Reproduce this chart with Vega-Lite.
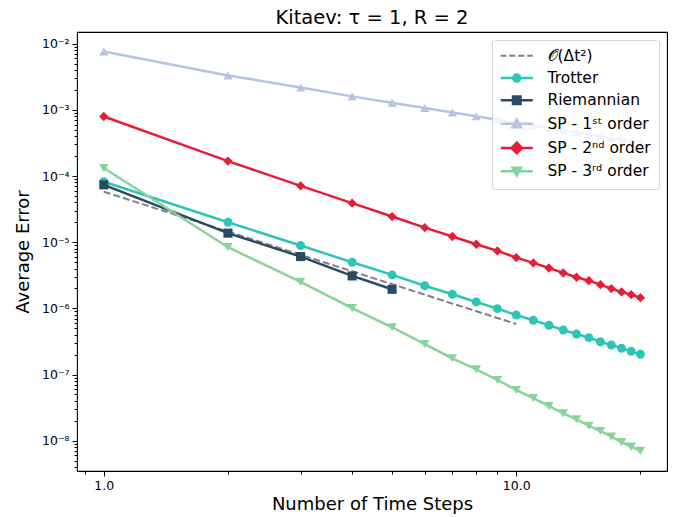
{
  "$schema": "https://vega.github.io/schema/vega-lite/v6.json",
  "width": 590,
  "height": 439,
  "autosize": {"type": "none"},
  "padding": {"left": 77, "top": 32, "right": 9, "bottom": 46},
  "background": "white",
  "title": {
    "text": "Kitaev: τ = 1, R = 2",
    "font": "DejaVu Sans",
    "fontSize": 19.5,
    "fontWeight": "normal",
    "color": "#000000",
    "anchor": "middle",
    "frame": "group",
    "baseline": "alphabetic",
    "offset": 9,
    "dy": 20
  },
  "config": {
    "view": {"stroke": "#000000", "strokeWidth": 1.1},
    "font": "DejaVu Sans",
    "axis": {
      "domain": false,
      "grid": false,
      "tickColor": "#000000",
      "tickWidth": 1,
      "labelColor": "#000000",
      "titleColor": "#000000",
      "labelFont": "DejaVu Sans",
      "titleFont": "DejaVu Sans",
      "labelFontSize": 12.5,
      "titleFontSize": 18,
      "titleFontWeight": "normal",
      "labelOverlap": false,
      "labelBound": false,
      "labelFlush": false
    }
  },
  "data": {
    "values": [
      {"method": "𝒪(Δt²)", "n": 1, "err": 5.8e-5},
      {"method": "𝒪(Δt²)", "n": 2, "err": 1.45e-5},
      {"method": "𝒪(Δt²)", "n": 3, "err": 6.44e-6},
      {"method": "𝒪(Δt²)", "n": 4, "err": 3.63e-6},
      {"method": "𝒪(Δt²)", "n": 5, "err": 2.32e-6},
      {"method": "𝒪(Δt²)", "n": 6, "err": 1.61e-6},
      {"method": "𝒪(Δt²)", "n": 7, "err": 1.18e-6},
      {"method": "𝒪(Δt²)", "n": 8, "err": 9.06e-7},
      {"method": "𝒪(Δt²)", "n": 9, "err": 7.16e-7},
      {"method": "𝒪(Δt²)", "n": 10, "err": 5.8e-7},

      {"method": "Trotter", "n": 1, "err": 8.2e-5},
      {"method": "Trotter", "n": 2, "err": 2.0e-5},
      {"method": "Trotter", "n": 3, "err": 8.9e-6},
      {"method": "Trotter", "n": 4, "err": 4.98e-6},
      {"method": "Trotter", "n": 5, "err": 3.2e-6},
      {"method": "Trotter", "n": 6, "err": 2.2e-6},
      {"method": "Trotter", "n": 7, "err": 1.63e-6},
      {"method": "Trotter", "n": 8, "err": 1.25e-6},
      {"method": "Trotter", "n": 9, "err": 9.9e-7},
      {"method": "Trotter", "n": 10, "err": 7.94e-7},
      {"method": "Trotter", "n": 11, "err": 6.6e-7},
      {"method": "Trotter", "n": 12, "err": 5.55e-7},
      {"method": "Trotter", "n": 13, "err": 4.71e-7},
      {"method": "Trotter", "n": 14, "err": 4.1e-7},
      {"method": "Trotter", "n": 15, "err": 3.6e-7},
      {"method": "Trotter", "n": 16, "err": 3.13e-7},
      {"method": "Trotter", "n": 17, "err": 2.79e-7},
      {"method": "Trotter", "n": 18, "err": 2.49e-7},
      {"method": "Trotter", "n": 19, "err": 2.24e-7},
      {"method": "Trotter", "n": 20, "err": 2.02e-7},

      {"method": "Riemannian", "n": 1, "err": 7.36e-5},
      {"method": "Riemannian", "n": 2, "err": 1.37e-5},
      {"method": "Riemannian", "n": 3, "err": 6.06e-6},
      {"method": "Riemannian", "n": 4, "err": 3.09e-6},
      {"method": "Riemannian", "n": 5, "err": 1.94e-6},

      {"method": "SP - 1ˢᵗ order", "n": 1, "err": 7.65e-3},
      {"method": "SP - 1ˢᵗ order", "n": 2, "err": 3.31e-3},
      {"method": "SP - 1ˢᵗ order", "n": 3, "err": 2.18e-3},
      {"method": "SP - 1ˢᵗ order", "n": 4, "err": 1.6e-3},
      {"method": "SP - 1ˢᵗ order", "n": 5, "err": 1.28e-3},
      {"method": "SP - 1ˢᵗ order", "n": 6, "err": 1.07e-3},
      {"method": "SP - 1ˢᵗ order", "n": 7, "err": 9.1e-4},
      {"method": "SP - 1ˢᵗ order", "n": 8, "err": 8.0e-4},
      {"method": "SP - 1ˢᵗ order", "n": 9, "err": 7.1e-4},
      {"method": "SP - 1ˢᵗ order", "n": 10, "err": 6.4e-4},
      {"method": "SP - 1ˢᵗ order", "n": 11, "err": 5.8e-4},
      {"method": "SP - 1ˢᵗ order", "n": 12, "err": 5.33e-4},
      {"method": "SP - 1ˢᵗ order", "n": 13, "err": 4.9e-4},
      {"method": "SP - 1ˢᵗ order", "n": 14, "err": 4.57e-4},
      {"method": "SP - 1ˢᵗ order", "n": 15, "err": 4.27e-4},
      {"method": "SP - 1ˢᵗ order", "n": 16, "err": 4.0e-4},
      {"method": "SP - 1ˢᵗ order", "n": 17, "err": 3.76e-4},
      {"method": "SP - 1ˢᵗ order", "n": 18, "err": 3.56e-4},
      {"method": "SP - 1ˢᵗ order", "n": 19, "err": 3.37e-4},
      {"method": "SP - 1ˢᵗ order", "n": 20, "err": 3.2e-4},

      {"method": "SP - 2ⁿᵈ order", "n": 1, "err": 7.94e-4},
      {"method": "SP - 2ⁿᵈ order", "n": 2, "err": 1.68e-4},
      {"method": "SP - 2ⁿᵈ order", "n": 3, "err": 7.1e-5},
      {"method": "SP - 2ⁿᵈ order", "n": 4, "err": 3.89e-5},
      {"method": "SP - 2ⁿᵈ order", "n": 5, "err": 2.44e-5},
      {"method": "SP - 2ⁿᵈ order", "n": 6, "err": 1.66e-5},
      {"method": "SP - 2ⁿᵈ order", "n": 7, "err": 1.22e-5},
      {"method": "SP - 2ⁿᵈ order", "n": 8, "err": 9.3e-6},
      {"method": "SP - 2ⁿᵈ order", "n": 9, "err": 7.38e-6},
      {"method": "SP - 2ⁿᵈ order", "n": 10, "err": 5.85e-6},
      {"method": "SP - 2ⁿᵈ order", "n": 11, "err": 4.86e-6},
      {"method": "SP - 2ⁿᵈ order", "n": 12, "err": 4.08e-6},
      {"method": "SP - 2ⁿᵈ order", "n": 13, "err": 3.43e-6},
      {"method": "SP - 2ⁿᵈ order", "n": 14, "err": 2.95e-6},
      {"method": "SP - 2ⁿᵈ order", "n": 15, "err": 2.62e-6},
      {"method": "SP - 2ⁿᵈ order", "n": 16, "err": 2.28e-6},
      {"method": "SP - 2ⁿᵈ order", "n": 17, "err": 1.99e-6},
      {"method": "SP - 2ⁿᵈ order", "n": 18, "err": 1.77e-6},
      {"method": "SP - 2ⁿᵈ order", "n": 19, "err": 1.61e-6},
      {"method": "SP - 2ⁿᵈ order", "n": 20, "err": 1.45e-6},

      {"method": "SP - 3ʳᵈ order", "n": 1, "err": 1.32e-4},
      {"method": "SP - 3ʳᵈ order", "n": 2, "err": 8.4e-6},
      {"method": "SP - 3ʳᵈ order", "n": 3, "err": 2.51e-6},
      {"method": "SP - 3ʳᵈ order", "n": 4, "err": 1.01e-6},
      {"method": "SP - 3ʳᵈ order", "n": 5, "err": 5.18e-7},
      {"method": "SP - 3ʳᵈ order", "n": 6, "err": 2.89e-7},
      {"method": "SP - 3ʳᵈ order", "n": 7, "err": 1.76e-7},
      {"method": "SP - 3ʳᵈ order", "n": 8, "err": 1.2e-7},
      {"method": "SP - 3ʳᵈ order", "n": 9, "err": 8.26e-8},
      {"method": "SP - 3ʳᵈ order", "n": 10, "err": 5.83e-8},
      {"method": "SP - 3ʳᵈ order", "n": 11, "err": 4.41e-8},
      {"method": "SP - 3ʳᵈ order", "n": 12, "err": 3.33e-8},
      {"method": "SP - 3ʳᵈ order", "n": 13, "err": 2.59e-8},
      {"method": "SP - 3ʳᵈ order", "n": 14, "err": 2.1e-8},
      {"method": "SP - 3ʳᵈ order", "n": 15, "err": 1.68e-8},
      {"method": "SP - 3ʳᵈ order", "n": 16, "err": 1.4e-8},
      {"method": "SP - 3ʳᵈ order", "n": 17, "err": 1.15e-8},
      {"method": "SP - 3ʳᵈ order", "n": 18, "err": 9.5e-9},
      {"method": "SP - 3ʳᵈ order", "n": 19, "err": 8.1e-9},
      {"method": "SP - 3ʳᵈ order", "n": 20, "err": 7.0e-9}
    ]
  },
  "encoding": {
    "x": {
      "field": "n",
      "type": "quantitative",
      "scale": {"type": "log", "domain": [0.861, 23.2], "nice": false, "zero": false},
      "axis": {
        "title": "Number of Time Steps",
        "values": [0.9, 1, 2, 3, 4, 5, 6, 7, 8, 9, 10, 20],
        "labelExpr": "datum.value == 1 ? '1.0' : (datum.value == 10 ? '10.0' : '')",
        "tickSize": {"condition": {"test": "datum.value == 1 || datum.value == 10", "value": 5}, "value": 3},
        "labelPadding": 3,
        "titlePadding": 4
      }
    },
    "y": {
      "field": "err",
      "type": "quantitative",
      "scale": {"type": "log", "domain": [3.48e-9, 1.503e-2], "nice": false, "zero": false},
      "axis": {
        "title": "Average Error",
        "values": [4e-9, 5e-9, 6e-9, 7e-9, 8e-9, 9e-9,
                   1e-8, 2e-8, 3e-8, 4e-8, 5e-8, 6e-8, 7e-8, 8e-8, 9e-8,
                   1e-7, 2e-7, 3e-7, 4e-7, 5e-7, 6e-7, 7e-7, 8e-7, 9e-7,
                   1e-6, 2e-6, 3e-6, 4e-6, 5e-6, 6e-6, 7e-6, 8e-6, 9e-6,
                   1e-5, 2e-5, 3e-5, 4e-5, 5e-5, 6e-5, 7e-5, 8e-5, 9e-5,
                   1e-4, 2e-4, 3e-4, 4e-4, 5e-4, 6e-4, 7e-4, 8e-4, 9e-4,
                   1e-3, 2e-3, 3e-3, 4e-3, 5e-3, 6e-3, 7e-3, 8e-3, 9e-3,
                   1e-2],
        "labelExpr": "abs(log(datum.value)/LN10 - round(log(datum.value)/LN10)) < 0.001 ? '10' + ['⁻⁸','⁻⁷','⁻⁶','⁻⁵','⁻⁴','⁻³','⁻²'][round(log(datum.value)/LN10) + 8] : ''",
        "tickSize": {"condition": {"test": "abs(log(datum.value)/LN10 - round(log(datum.value)/LN10)) < 0.001", "value": 5}, "value": 3},
        "labelPadding": 3,
        "titlePadding": 9
      }
    },
    "color": {
      "field": "method",
      "type": "nominal",
      "scale": {
        "domain": ["𝒪(Δt²)", "Trotter", "Riemannian", "SP - 1ˢᵗ order", "SP - 2ⁿᵈ order", "SP - 3ʳᵈ order"],
        "range": ["#808080", "#2EC4B6", "#284B63", "#B4C5E4", "#E71D36", "#88D498"]
      },
      "legend": {
        "title": null,
        "orient": "top-right",
        "offset": 8,
        "padding": 8,
        "fillColor": "rgba(255,255,255,0.8)",
        "strokeColor": "#d3d3d3",
        "cornerRadius": 3,
        "labelFont": "DejaVu Sans",
        "labelFontSize": 15.5,
        "labelColor": "#000000",
        "symbolSize": 100,
        "symbolType": "circle",
        "symbolOffset": 9,
        "labelOffset": 23,
        "rowPadding": 4.3,
        "symbolStrokeWidth": 2.5,
        "encode": {
          "symbols": {
            "update": {
              "shape": {"signal": "['M-3.2,0H-2.1M-1.5,0H-0.3M0.3,0H1.5M2.1,0H3.2', 'M-3.2,0H3.2M-0.7,0A0.7,0.7,0,1,1,0.7,0A0.7,0.7,0,1,1,-0.7,0Z', 'M-3.2,0H3.2M-0.75,-0.75H0.75V0.75H-0.75Z', 'M-3.2,0H3.2M0,-0.85L0.85,0.7H-0.85Z', 'M-3.2,0H3.2M0,-1.05L1.05,0L0,1.05L-1.05,0Z', 'M-3.2,0H3.2M0,0.85L0.85,-0.7H-0.85Z'][indexof(['𝒪(Δt²)', 'Trotter', 'Riemannian', 'SP - 1ˢᵗ order', 'SP - 2ⁿᵈ order', 'SP - 3ʳᵈ order'], datum.value)]"},
              "fill": {"signal": "datum.value === '𝒪(Δt²)' ? 'transparent' : scale('color', datum.value)"},
              "stroke": {"signal": "scale('color', datum.value)"},
              "strokeWidth": {"signal": "datum.value === '𝒪(Δt²)' ? 2 : 2.5"},
              "opacity": {"value": 1}
            }
          }
        }
      }
    }
  },
  "layer": [
    {
      "transform": [{"filter": "datum.method === '𝒪(Δt²)'"}],
      "mark": {"type": "line", "strokeWidth": 2, "strokeDash": [7, 3]}
    },
    {
      "transform": [{"filter": "datum.method !== '𝒪(Δt²)'"}],
      "mark": {"type": "line", "strokeWidth": 2.5}
    },
    {
      "transform": [{"filter": "datum.method !== '𝒪(Δt²)'"}],
      "mark": {"type": "point", "filled": true, "opacity": 1, "strokeWidth": 0},
      "encoding": {
        "shape": {
          "field": "method",
          "type": "nominal",
          "scale": {
            "domain": ["Trotter", "Riemannian", "SP - 1ˢᵗ order", "SP - 2ⁿᵈ order", "SP - 3ʳᵈ order"],
            "range": ["circle", "square", "triangle-up", "diamond", "triangle-down"]
          },
          "legend": null
        },
        "size": {
          "field": "method",
          "type": "nominal",
          "scale": {
            "domain": ["Trotter", "Riemannian", "SP - 1ˢᵗ order", "SP - 2ⁿᵈ order", "SP - 3ʳᵈ order"],
            "range": [80, 90, 121, 150, 121]
          },
          "legend": null
        }
      }
    }
  ]
}
